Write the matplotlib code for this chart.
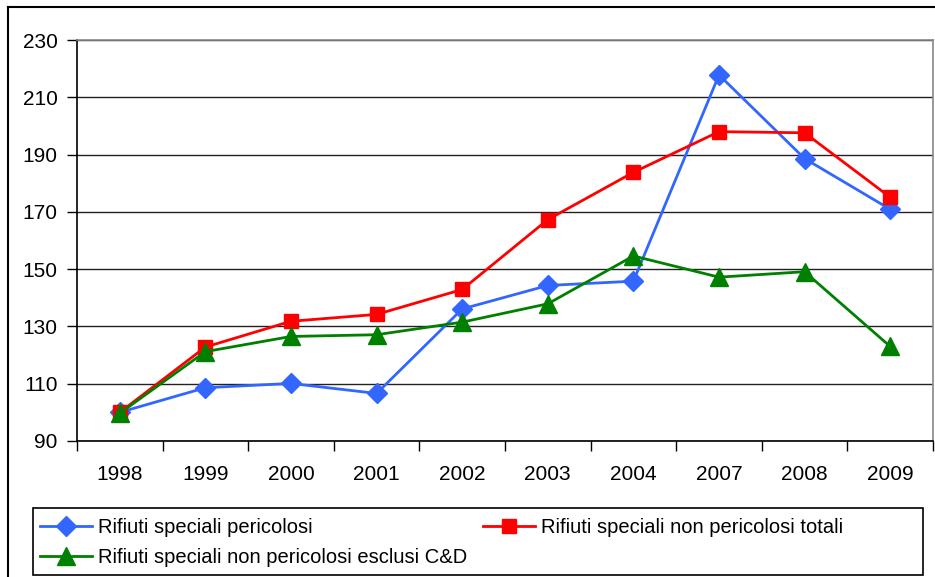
import matplotlib.pyplot as plt
from matplotlib.patches import Rectangle
from matplotlib.lines import Line2D

plt.rcParams['font.family'] = ['Liberation Sans', 'DejaVu Sans']

anni = ['1998', '1999', '2000', '2001', '2002', '2003', '2004', '2007', '2008', '2009']
pericolosi = [100, 108.6, 110.1, 106.6, 136.1, 144.3, 145.8, 217.8, 188.6, 170.9]
non_pericolosi_tot = [100, 122.8, 131.8, 134.2, 142.9, 167.3, 183.8, 198.0, 197.6, 175.1]
non_pericolosi_no_cd = [99.7, 121.2, 126.5, 127.1, 131.5, 137.9, 154.6, 147.2, 149.1, 123.0]

etichette = ['Rifiuti speciali pericolosi',
             'Rifiuti speciali non pericolosi totali',
             'Rifiuti speciali non pericolosi esclusi C&D']

W, H = 935, 577
fig = plt.figure(figsize=(9.35, 5.77), dpi=100)
ax = fig.add_axes([77 / W, 1 - 441 / H, (933 - 77) / W, (441 - 40) / H])

x = list(range(len(anni)))
l1, = ax.plot(x, pericolosi, color='#3366ff', lw=2, marker='D', markersize=10, label=etichette[0])
l2, = ax.plot(x, non_pericolosi_tot, color='#ff0000', lw=2, marker='s', markersize=10, label=etichette[1])
l3, = ax.plot(x, non_pericolosi_no_cd, color='#008000', lw=2, marker='^', markersize=13, label=etichette[2])

ax.set_xlim(-0.5, len(anni) - 0.5)
ax.set_ylim(90, 230)
ax.set_yticks(range(90, 231, 20))
ax.yaxis.grid(True, color='#222222', lw=1)
ax.set_axisbelow(True)

ax.set_xticks(x)
ax.set_xticklabels(anni)
ax.set_xticks([i - 0.5 for i in range(len(anni) + 1)], minor=True)
ax.tick_params(axis='x', which='major', length=0, pad=17, labelsize=15)
ax.tick_params(axis='x', which='minor', length=7, width=1, direction='out')
ax.tick_params(axis='y', length=7, width=1, direction='out', pad=7, labelsize=15)

ax.spines['left'].set_color('black')
ax.spines['bottom'].set_color('black')
ax.spines['top'].set_color('#888888')
ax.spines['right'].set_color('#888888')
for s in ax.spines.values():
    s.set_linewidth(1.2)

# riquadro esterno
fig.add_artist(Line2D([8 / W, 1], [1 - 7 / H, 1 - 7 / H], color='black', lw=1.5))
fig.add_artist(Line2D([8 / W, 8 / W], [0, 1 - 7 / H], color='black', lw=1.5))

# riquadro legenda
fig.add_artist(Rectangle((33 / W, 2 / H), (923 - 33) / W, (575 - 508) / H,
                         fill=False, edgecolor='black', lw=1.2, transform=fig.transFigure))
fig.legend([l1, l3, l2], [etichette[0], etichette[2], etichette[1]], ncol=2,
           loc='upper left', bbox_to_anchor=(40 / W, 1 - 518 / H), frameon=False,
           fontsize=14.5, handlelength=2.6, handletextpad=0.3, columnspacing=0.75,
           labelspacing=0.55, borderpad=0, borderaxespad=0)

fig.savefig('out.png', dpi=100)
